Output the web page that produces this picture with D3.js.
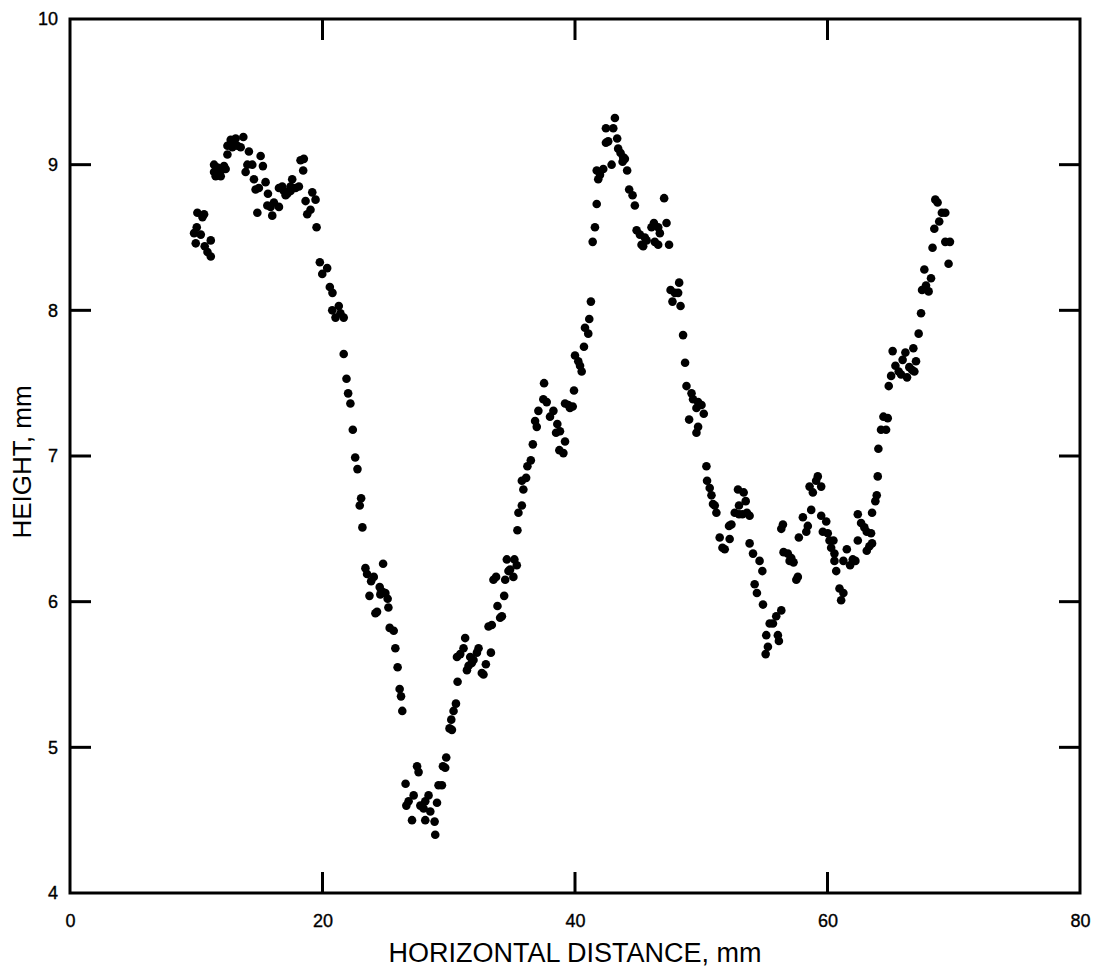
<!DOCTYPE html>
<html>
<head>
<meta charset="utf-8">
<script src="https://cdn.jsdelivr.net/npm/d3@7"></script>
<style>
  html, body { margin: 0; padding: 0; background: #fff; }
  svg { display: block; }
  text { font-family: "Liberation Sans", Arial, Helvetica, sans-serif; fill: #000; }
</style>
</head>
<body>
<svg id="chart" width="1100" height="971"></svg>
<script>
// ---- data ----
const xTicks = [0, 20, 40, 60, 80];
const yTicks = [4, 5, 6, 7, 8, 9, 10];
const xTitle = "HORIZONTAL DISTANCE, mm";
const yTitle = "HEIGHT, mm";

const distance = [
  10.09,10.62,10.49,10.04,9.83,10.36,9.96,11.15,10.67,10.89,11.15,
  11.41,11.68,12.20,12.33,11.94,11.54,11.94,11.41,12.47,12.73,12.99,12.47,12.86,13.26,13.52,13.73,13.12,
  14.17,15.10,14.05,14.44,13.91,15.28,14.57,15.49,14.70,14.96,15.68,14.84,15.63,15.89,16.55,16.15,16.02,
  16.55,16.81,16.94,17.21,17.47,17.60,17.87,18.13,17.47,17.08,18.26,18.52,18.47,19.19,19.45,18.66,19.05,18.79,19.53,
  19.79,20.37,19.98,20.58,20.79,21.29,20.77,21.03,21.68,21.42,21.68,21.90,22.03,22.21,22.40,22.59,22.77,23.06,22.95,23.16,
  23.40,24.80,23.53,24.06,23.85,24.53,24.72,24.98,24.58,25.16,23.72,24.32,24.19,25.22,25.32,25.64,25.77,25.95,26.11,26.22,26.32,
  27.49,27.61,26.58,27.22,26.82,26.64,28.40,28.14,27.75,28.01,29.07,28.54,27.09,28.14,28.88,28.93,29.19,29.46,29.54,29.72,29.80,
  30.06,30.25,30.20,30.38,30.57,30.70,31.30,31.17,30.65,30.91,31.70,31.96,32.36,32.23,31.57,31.44,31.83,32.94,32.62,32.75,33.34,
  33.15,33.41,34.21,34.07,33.86,34.39,33.54,33.75,34.47,34.60,35.20,35.39,34.86,35.12,34.73,35.44,35.52,35.79,35.91,35.79,36.13,
  36.23,36.50,36.66,36.84,36.97,37.10,37.49,37.76,37.55,38.29,38.02,38.60,38.50,38.81,39.21,38.76,39.08,39.21,39.60,39.82,39.47,
  39.92,40.00,40.26,40.40,40.53,40.71,40.79,41.05,41.13,41.26,41.40,41.58,41.72,41.72,41.98,42.24,41.84,42.90,42.45,42.63,42.45,
  43.03,43.34,43.16,43.42,43.61,43.82,43.95,43.77,44.13,44.29,44.56,44.74,44.88,45.14,45.27,45.40,45.67,45.53,46.06,46.25,46.59,
  47.25,46.72,46.32,46.59,47.45,47.06,
  48.25,47.57,47.91,48.17,47.72,48.36,48.56,48.72,48.83,49.23,49.35,49.75,50.02,50.20,49.62,49.04,49.75,49.62,50.41,50.46,50.67,
  50.81,50.93,51.20,51.07,51.46,51.86,51.68,52.25,52.20,52.39,52.91,53.36,53.52,52.99,52.65,52.99,53.26,53.83,53.62,53.83,54.10,
  54.62,54.84,54.23,54.41,54.89,56.34,55.94,55.68,55.42,55.15,56.07,56.15,55.28,55.10,56.47,56.34,56.52,56.86,57.13,57.31,57.00,
  57.53,57.65,57.73,58.05,58.44,58.32,58.71,58.58,58.84,59.23,59.10,59.50,59.50,59.90,59.63,60.02,60.16,60.47,60.29,60.55,60.55,
  60.69,60.95,61.26,61.08,61.53,61.26,62.00,61.79,62.21,62.40,62.40,62.66,62.92,63.11,63.45,63.53,63.32,63.11,63.53,63.79,63.90,
  63.98,64.03,64.24,64.64,64.43,64.77,64.85,65.04,65.16,65.38,65.64,65.83,65.95,66.17,66.30,66.48,66.70,66.88,67.01,66.80,67.22,
  67.41,67.49,68.01,67.80,68.20,67.67,68.32,69.33,69.70,69.59,68.46,68.85,69.06,69.33,68.54,68.72
];
const height = [
  8.67,8.66,8.64,8.57,8.53,8.52,8.46,8.48,8.44,8.40,8.37,
  9.00,8.98,8.99,8.97,8.96,8.92,8.92,8.95,9.07,9.17,9.15,9.13,9.12,9.13,9.12,9.19,9.18,
  9.09,9.06,9.00,9.00,8.95,8.99,8.90,8.88,8.83,8.84,8.80,8.67,8.72,8.71,8.71,8.74,8.65,
  8.84,8.85,8.82,8.80,8.85,8.90,8.84,8.85,8.82,8.79,9.03,9.04,8.96,8.81,8.76,8.75,8.69,8.66,8.57,
  8.33,8.29,8.25,8.16,8.12,8.03,8.00,7.95,7.95,7.98,7.70,7.53,7.43,7.36,7.18,6.99,6.91,6.71,6.66,6.51,
  6.23,6.26,6.19,6.17,6.14,6.10,6.07,6.06,6.05,6.02,6.04,5.93,5.92,5.96,5.82,5.80,5.68,5.55,5.40,5.35,5.25,
  4.87,4.83,4.75,4.67,4.63,4.60,4.67,4.63,4.60,4.58,4.62,4.56,4.50,4.50,4.49,4.40,4.74,4.74,4.87,4.86,4.93,
  5.13,5.12,5.19,5.25,5.30,5.45,5.75,5.68,5.62,5.64,5.62,5.60,5.68,5.65,5.56,5.53,5.58,5.57,5.51,5.50,5.65,
  5.83,5.84,5.90,5.89,5.97,6.04,6.15,6.17,6.15,6.29,6.29,6.25,6.22,6.17,6.21,6.49,6.61,6.66,6.77,6.83,6.85,
  6.93,6.97,7.08,7.24,7.20,7.31,7.39,7.37,7.50,7.31,7.27,7.22,7.16,7.17,7.10,7.04,7.02,7.36,7.33,7.34,7.35,
  7.45,7.69,7.65,7.62,7.58,7.75,7.88,7.84,7.94,8.06,8.47,8.57,8.73,8.96,8.93,8.97,8.90,9.00,9.15,9.16,9.25,
  9.25,9.18,9.32,9.11,9.08,9.05,9.04,9.02,8.96,8.83,8.79,8.72,8.55,8.52,8.45,8.44,8.48,8.50,8.57,8.60,8.57,
  8.60,8.53,8.47,8.45,8.45,8.77,
  8.19,8.14,8.12,8.12,8.06,8.03,7.83,7.64,7.48,7.43,7.39,7.37,7.35,7.29,7.33,7.25,7.20,7.16,6.93,6.83,6.78,
  6.73,6.67,6.61,6.66,6.44,6.36,6.37,6.43,6.52,6.53,6.77,6.75,6.69,6.66,6.61,6.60,6.60,6.59,6.61,6.40,6.33,
  6.28,6.21,6.12,6.06,5.98,5.94,5.90,5.85,5.85,5.77,5.77,5.73,5.69,5.64,6.53,6.50,6.34,6.33,6.30,6.27,6.28,
  6.15,6.17,6.44,6.58,6.52,6.48,6.63,6.79,6.75,6.86,6.83,6.79,6.59,6.55,6.48,6.47,6.42,6.42,6.37,6.33,6.28,
  6.21,6.09,6.06,6.01,6.36,6.28,6.29,6.25,6.28,6.42,6.60,6.54,6.51,6.48,6.47,6.40,6.38,6.35,6.61,6.69,6.73,
  6.86,7.05,7.18,7.18,7.27,7.26,7.48,7.55,7.72,7.62,7.58,7.56,7.66,7.71,7.54,7.61,7.59,7.58,7.65,7.74,7.84,
  7.98,8.14,8.13,8.17,8.22,8.28,8.43,8.47,8.47,8.32,8.56,8.61,8.67,8.67,8.76,8.74
];

// ---- layout ----
const svg = d3.select("#chart");
const mLeft = 70, mRight = 1080, mTop = 19, mBottom = 893;
const x = d3.scaleLinear().domain([0, 80]).range([mLeft, mRight]);
const y = d3.scaleLinear().domain([4, 10]).range([mBottom, mTop]);
const tickLen = 21;
const fs = 18;

const points = distance.map((d, i) => ({ d, h: height[i] }));

// points
svg.append("g").selectAll("circle")
  .data(points)
  .enter().append("circle")
  .attr("cx", p => x(p.d))
  .attr("cy", p => y(p.h))
  .attr("r", 4.3)
  .attr("fill", "#000");

// axes (labels only), inward ticks drawn separately
const innerX = xTicks.filter(t => t > 0 && t < 80);
const innerY = yTicks.filter(t => t > 4 && t < 10);

const gBottom = svg.append("g").attr("transform", `translate(0,${mBottom})`)
  .call(d3.axisBottom(x).tickValues(xTicks).tickSize(0).tickPadding(21).tickFormat(d3.format("d")));
const gLeft = svg.append("g").attr("transform", `translate(${mLeft},0)`)
  .call(d3.axisLeft(y).tickValues(yTicks).tickSize(0).tickPadding(12).tickFormat(d3.format("d")));
[gBottom, gLeft].forEach(g => {
  g.select(".domain").remove();
  g.selectAll("text").style("font-size", fs + "px").style("font-family", '"Liberation Sans", Arial, sans-serif')
    .attr("fill", "#000").attr("stroke", "#000").attr("stroke-width", 0.35);
});

const tk = svg.append("g").attr("stroke", "#000").attr("stroke-width", 3);
innerX.forEach(t => {
  tk.append("line").attr("x1", x(t)).attr("x2", x(t)).attr("y1", mBottom).attr("y2", mBottom - tickLen);
  tk.append("line").attr("x1", x(t)).attr("x2", x(t)).attr("y1", mTop).attr("y2", mTop + tickLen);
});
innerY.forEach(t => {
  tk.append("line").attr("x1", mLeft).attr("x2", mLeft + tickLen).attr("y1", y(t)).attr("y2", y(t));
  tk.append("line").attr("x1", mRight).attr("x2", mRight - tickLen).attr("y1", y(t)).attr("y2", y(t));
});

svg.append("rect")
  .attr("x", mLeft).attr("y", mTop)
  .attr("width", mRight - mLeft).attr("height", mBottom - mTop)
  .attr("fill", "none").attr("stroke", "#000").attr("stroke-width", 3);

svg.append("text")
  .attr("x", (mLeft + mRight) / 2).attr("y", 962)
  .attr("text-anchor", "middle")
  .style("font-size", "27px")
  .text(xTitle);

svg.append("text")
  .attr("transform", `translate(31,${(mTop + mBottom) / 2 + 6}) rotate(-90)`)
  .attr("text-anchor", "middle")
  .style("font-size", "26px")
  .text(yTitle);
</script>
</body>
</html>
